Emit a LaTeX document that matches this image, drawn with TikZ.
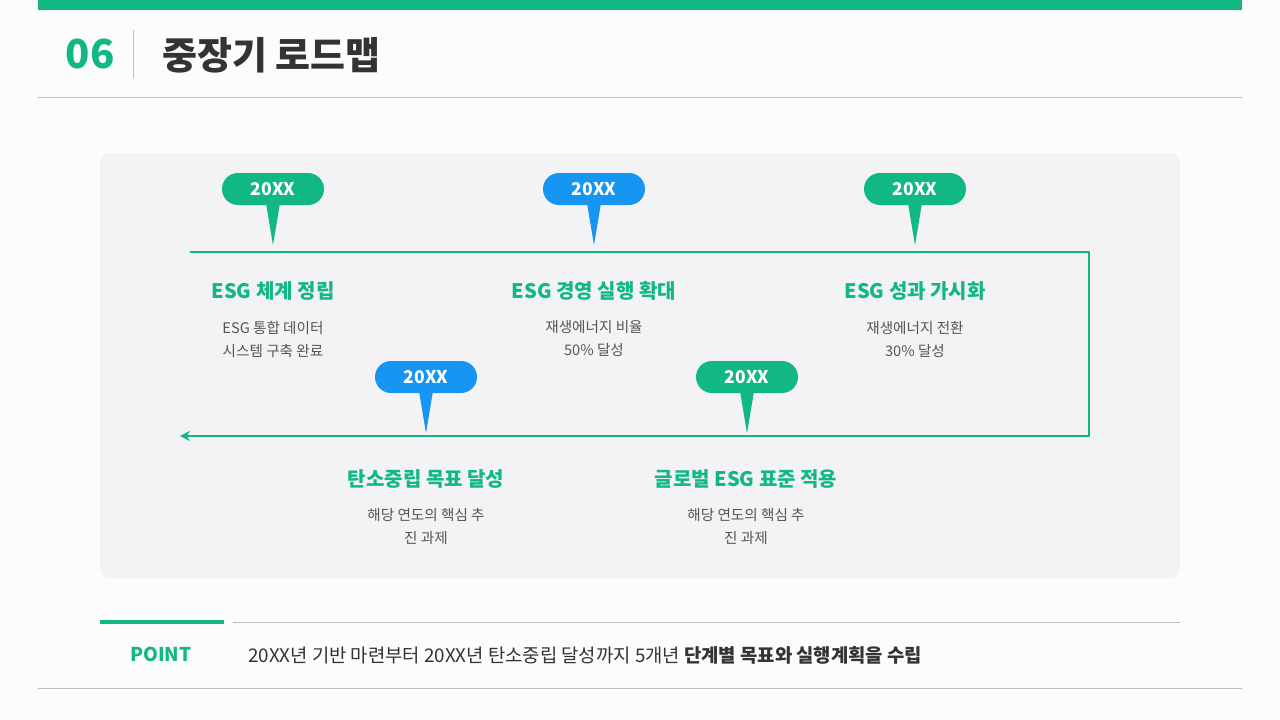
\documentclass[tikz,border=0pt]{standalone}
\usepackage{fontspec}
\setmainfont{Noto Sans CJK KR}
\usetikzlibrary{arrows.meta,calc}
\definecolor{brand}{RGB}{17,184,131}
\definecolor{sky}{RGB}{22,150,242}
\definecolor{ink}{RGB}{51,51,51}
\definecolor{soft}{RGB}{85,85,85}
\definecolor{rule}{RGB}{190,190,190}
\definecolor{panel}{RGB}{243,243,246}
\definecolor{page}{RGB}{252,252,253}
\tikzset{
  pill/.style={rounded corners=16pt, minimum width=102pt, minimum height=32pt, inner sep=0pt,
    text=white, font=\fontsize{17.5}{20}\selectfont\bfseries},
  phase/.style={text=brand, font=\fontsize{20}{24}\selectfont\bfseries, inner sep=0pt},
  desc/.style={text=soft, font=\fontsize{14.6}{23}\selectfont, align=center, inner sep=0pt},
  track/.style={draw=brand, line width=2.6pt},
}
\newcommand{\pinat}[4]{% name, x, y, color
  \node[pill, fill=#4] (#1) at (#2,#3) {20XX};
  \fill[#4] ($(#1.south)+(-7,-2)$) -- ($(#1.south)+(0,40)$) -- ($(#1.south)+(7,-2)$) -- cycle;
}
\begin{document}
\begin{tikzpicture}[x=1pt,y=-1pt]
\useasboundingbox (0,0) rectangle (1280,720);
\fill[page] (0,0) rectangle (1280,720);
% header
\fill[brand] (38,0) rectangle (1242,10);
\node[anchor=center, text=brand, font=\fontsize{40}{44}\selectfont\bfseries, inner sep=0pt] (num) at (90,54) {06};
\draw[rule, line width=0.8pt] (133,30) -- (133,78);
\node[anchor=west, text=ink, font=\fontsize{38}{42}\selectfont\bfseries, inner sep=0pt] (title) at (162,55) {중장기 로드맵};
\draw[rule, line width=0.8pt] (38,97) -- (1242,97);
% panel
\fill[panel, rounded corners=10pt] (100,153) rectangle (1180,578);
% track
\coordinate (tl) at (190,252);
\coordinate (tr) at (1089,252);
\coordinate (br) at (1089,436);
\coordinate (bl) at (180,436);
\draw[track, -{Stealth[length=10pt,width=10pt]}] (tl) -- (tr) -- (br) -- (bl);
% pins
\pinat{p1}{273}{189}{brand}
\pinat{p2}{594}{189}{sky}
\pinat{p3}{915}{189}{brand}
\pinat{p4}{426}{377}{sky}
\pinat{p5}{747}{377}{brand}
% phases
\node[phase] (t1) at (273,291) {ESG 체계 정립};
\node[desc] (d1) at (273,339) {ESG 통합 데이터\\시스템 구축 완료};
\node[phase] (t2) at (594,291) {ESG 경영 실행 확대};
\node[desc] (d2) at (594,339) {재생에너지 비율\\50\% 달성};
\node[phase] (t3) at (915,291) {ESG 성과 가시화};
\node[desc] (d3) at (915,339) {재생에너지 전환\\30\% 달성};
\node[phase] (t4) at (426,479) {탄소중립 목표 달성};
\node[desc] (d4) at (426,527) {해당 연도의 핵심 추\\진 과제};
\node[phase] (t5) at (746,479) {글로벌 ESG 표준 적용};
\node[desc] (d5) at (746,527) {해당 연도의 핵심 추\\진 과제};
% point
\draw[brand, line width=4pt] (100,622) -- (224,622);
\draw[rule, line width=0.8pt] (233,622) -- (1180,622);
\node[text=brand, font=\fontsize{19}{22}\selectfont\bfseries, inner sep=0pt] (point) at (161,654) {POINT};
\node[anchor=west, text=ink, font=\fontsize{18.8}{22}\selectfont, inner sep=0pt] (ptext) at (248,655)
  {20XX년 기반 마련부터 20XX년 탄소중립 달성까지 5개년 \textbf{단계별 목표와 실행계획을 수립}};
\draw[rule, line width=0.8pt] (38,688) -- (1242,688);
\end{tikzpicture}
\end{document}
